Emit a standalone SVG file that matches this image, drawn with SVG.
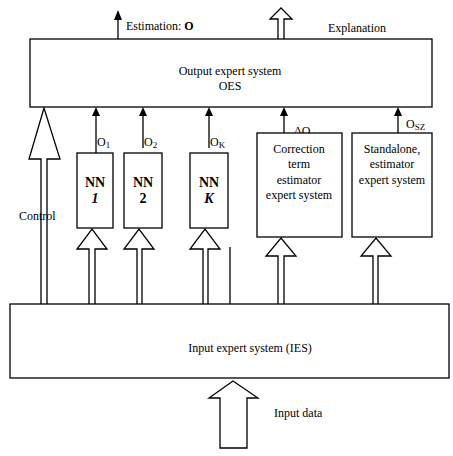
<svg xmlns="http://www.w3.org/2000/svg" width="453" height="456" viewBox="0 0 453 456" font-family="'Liberation Serif', 'Times New Roman', serif">
<defs>
<style>
.box{fill:#fff;stroke:#000;stroke-width:1.3}
.ln{fill:none;stroke:#000;stroke-width:1.3}
.ha{fill:#fff;stroke:#000;stroke-width:1.3;stroke-linejoin:miter}
text{font-family:'Liberation Serif','Times New Roman',serif;font-size:12px;fill:#000}
.c{text-anchor:middle}
.nn{font-size:14px;font-weight:bold}
</style>
</defs>
<rect width="453" height="456" fill="#fff"/>

<g id="connectors">
<line class="ln" x1="118" y1="39" x2="118" y2="12"/>
<path d="M118,10 L114,20 L122,20 Z" fill="#000"/>
<path class="ha" d="M278,43 L278,19 L270,19 L281,8 L292,19 L284,19 L284,43"/>
<path class="ha" d="M41,304 L41,159 L29,159 L44,108 L60,159 L47,159 L47,304"/>
<line class="ln" x1="96" y1="153" x2="96" y2="112"/>
<path d="M96,107 L92,116 L100,116 Z" fill="#000"/>
<line class="ln" x1="143" y1="148" x2="143" y2="112"/>
<path d="M143,107 L139,116 L147,116 Z" fill="#000"/>
<line class="ln" x1="209" y1="148" x2="209" y2="112"/>
<path d="M209,107 L205,116 L213,116 Z" fill="#000"/>
<line class="ln" x1="284" y1="133" x2="284" y2="112"/>
<path d="M284,107 L280,116 L288,116 Z" fill="#000"/>
<line class="ln" x1="398" y1="133" x2="398" y2="112"/>
<path d="M398,107 L394,116 L402,116 Z" fill="#000"/>
<path class="ha" d="M89,304 L89,249 L77,249 L92,229 L107,249 L95,249 L95,304"/>
<path class="ha" d="M137,304 L137,249 L124,249 L139,229 L154,249 L142,249 L142,304"/>
<path class="ha" d="M203,304 L203,249 L190,249 L205,229 L220,249 L208,249 L208,304"/>
<line class="ln" x1="230" y1="247" x2="230" y2="304"/>
<path class="ha" d="M278,304 L278,256 L266,256 L281,238 L296,256 L284,256 L284,304"/>
<path class="ha" d="M373,304 L373,256 L361,256 L376,238 L391,256 L378,256 L378,304"/>
<path class="ha" d="M220,448 L220,398 L209,398 L233,381 L258,398 L247,398 L247,448 Z"/>
</g>

<g id="oes">
<rect class="box" x="30" y="39" width="402" height="68"/>
<text class="c" x="230" y="75">Output expert system</text>
<text class="c" x="230" y="90">OES</text>
</g>

<g id="labels">
<text x="126" y="30">Estimation: <tspan font-weight="bold">O</tspan></text>
<text x="328" y="32">Explanation</text>
<text x="19" y="220">Control</text>
<text x="97" y="146" font-size="13">O<tspan font-size="9" dy="2">1</tspan></text>
<text x="144" y="146" font-size="13">O<tspan font-size="9" dy="2">2</tspan></text>
<text x="210" y="146" font-size="13">O<tspan font-size="9" dy="2">K</tspan></text>
<text x="294" y="135" font-size="13">Δ<tspan font-size="12">O</tspan></text>
<text x="406" y="128" font-size="13">O<tspan font-size="9" dy="2">SZ</tspan></text>
<text x="274" y="417">Input data</text>
</g>

<g id="nn1">
<rect class="box" x="77" y="153" width="36" height="75"/>
<text class="c nn" x="95" y="187">NN</text>
<text class="c nn" x="95" y="203" font-style="italic">1</text>
</g>
<g id="nn2">
<rect class="box" x="124" y="153" width="38" height="75"/>
<text class="c nn" x="143" y="187">NN</text>
<text class="c nn" x="143" y="203">2</text>
</g>
<g id="nnk">
<rect class="box" x="190" y="153" width="38" height="75"/>
<text class="c nn" x="209" y="187">NN</text>
<text class="c nn" x="209" y="203" font-style="italic">K</text>
</g>

<g id="correction">
<rect class="box" x="257" y="133" width="85" height="104"/>
<text class="c" x="299" y="153">Correction</text>
<text class="c" x="299" y="168">term</text>
<text class="c" x="299" y="184">estimator</text>
<text class="c" x="299" y="199">expert system</text>
</g>

<g id="standalone">
<rect class="box" x="352" y="133" width="80" height="104"/>
<text class="c" x="392" y="153">Standalone,</text>
<text class="c" x="392" y="168">estimator</text>
<text class="c" x="392" y="184">expert system</text>
</g>

<g id="ies">
<rect class="box" x="10" y="304" width="439" height="74"/>
<text class="c" x="250" y="352">Input expert system (IES)</text>
</g>
</svg>
